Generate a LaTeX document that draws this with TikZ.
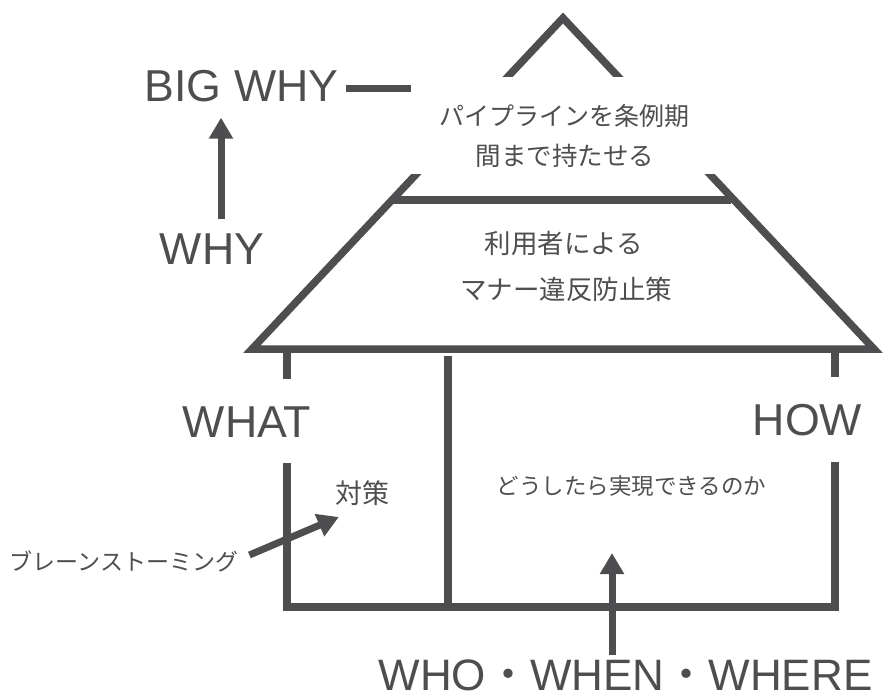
\documentclass[tikz,border=0pt]{standalone}
\usepackage{fontspec}
\setmainfont{Liberation Sans}
\newfontfamily\jp{Noto Sans CJK JP}
\usetikzlibrary{arrows.meta,calc}
\definecolor{ink}{RGB}{78,78,80}
\begin{document}
\begin{tikzpicture}[x=1pt,y=-1pt,
  wall/.style={draw=ink,line width=7.5pt,line join=miter,miter limit=20},
  arr/.style={draw=ink,line width=7pt,-{Triangle[length=21pt,width=23pt]}},
  lat/.style={font=\fontsize{44.7}{50}\selectfont,text=ink,inner sep=0pt,anchor=base},
  jpt/.style={text=ink,inner sep=0pt,anchor=base}]
\useasboundingbox (0,0) rectangle (888,700);
% roof
\draw[wall] (563,18) -- (252,349) -- (874,349) -- cycle;
\draw[wall] (392,200) -- (731,200);
\node[fill=white,minimum width=308pt,minimum height=97pt,inner sep=0pt] (box) at (565,125.5) {};
% walls
\draw[wall] (287,349) -- (287,379);
\draw[wall] (287,463) -- (287,607) -- (835,607) -- (835,462);
\draw[wall] (835,349) -- (835,377);
\draw[wall] (448,356) -- (448,607);
% latin labels
\node[lat] (bigwhy) at (241.5,102) {BIG WHY};
\node[lat] (why) at (212,265) {WHY};
\node[lat] (what) at (247,437) {WHAT};
\node[lat] (how) at (807.5,435) {HOW};
\node[lat,font=\fontsize{44}{50}\selectfont] (w3) at (625.5,690) {WHO{\jp\smash{・}}WHEN{\jp\smash{・}}WHERE};
% japanese labels
\node[jpt,font=\jp\fontsize{25}{30}\selectfont] (t1) at (564,125.5) {パイプラインを条例期};
\node[jpt,font=\jp\fontsize{25.5}{30}\selectfont] (t2) at (565,166) {間まで持たせる};
\node[jpt,font=\jp\fontsize{26.5}{30}\selectfont] (m1) at (564,254) {利用者による};
\node[jpt,font=\jp\fontsize{26.5}{30}\selectfont] (m2) at (566,300) {マナー違反防止策};
\node[jpt,font=\jp\fontsize{27}{30}\selectfont] (taisaku) at (362,503) {対策};
\node[jpt,font=\jp\fontsize{23}{30}\selectfont] (brain) at (124,570) {ブレーンストーミング};
\node[jpt,font=\jp\fontsize{22.5}{30}\selectfont] (how2) at (631.5,494) {どうしたら実現できるのか};
% connectors
\draw[wall] ([xshift=7pt,yshift=-2pt]bigwhy.east) -- ([yshift=-2pt]bigwhy.east -| box.west);
\draw[arr] ($(why.north)+(9,-15)$) -- ($(why.north |- bigwhy.south)+(9,15)$);
\draw[arr] ($(brain.base east)+(11,-15)$) -- ($(taisaku.base west)+(4,14)$);
\draw[arr] ($(w3.north)+(-13.5,-4)$) -- ($(how2.base)+(-19.5,59)$);
\end{tikzpicture}
\end{document}
